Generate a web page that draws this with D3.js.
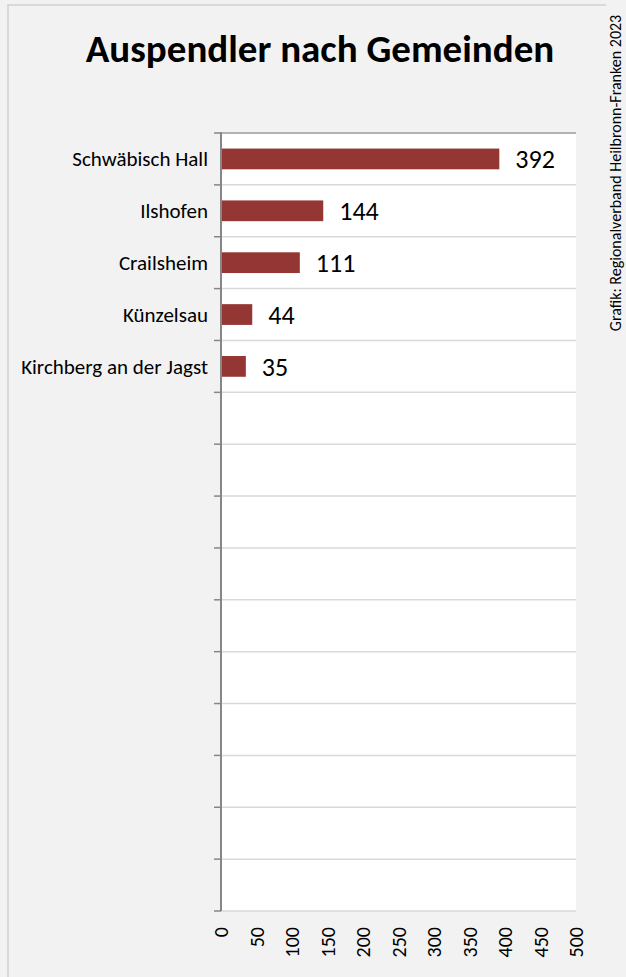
<!DOCTYPE html>
<html lang="de">
<head>
  <meta charset="UTF-8">
  <title>Auspendler nach Gemeinden</title>
  <style>
    body{ margin: 0; background: #f2f2f2; }
    text{ font-family: Carlito, Lato, "Open Sans", sans-serif; fill: #000; }
    .grid line{ stroke: #d9d9d9; stroke-width: 1.5px; }
    .bar{ fill: #943634; }
  </style>
</head>
<body>
  <script src="https://cdn.jsdelivr.net/npm/d3@7/dist/d3.min.js"></script>
  <script>
    const width = 626, height = 977;
    const title = 'Auspendler nach Gemeinden';
    const credit = 'Grafik: Regionalverband Heilbronn-Franken 2023';
    const categories = ['Schwäbisch Hall', 'Ilshofen', 'Crailsheim', 'Künzelsau', 'Kirchberg an der Jagst'];
    const values = [392, 144, 111, 44, 35];
    const slots = 15; // Diagramm hat 15 Kategorie-Plätze, nur 5 belegt
    const xTicks = [0, 50, 100, 150, 200, 250, 300, 350, 400, 450, 500];

    const plot = { left: 221, right: 576, top: 133, bottom: 911 };

    const svg = d3.select('body').append('svg')
      .attr('width', width).attr('height', height);

    // Rahmen
    svg.append('rect').attr('width', width).attr('height', height).attr('fill', '#f2f2f2');
    svg.append('path')
      .attr('d', `M8,${height} V5 H606`)
      .attr('fill', 'none').attr('stroke', '#d9d9d9').attr('stroke-width', 2);

    const x = d3.scaleLinear().domain([0, 500]).range([plot.left, plot.right]);
    const y = d3.scaleBand().domain(d3.range(slots)).range([plot.top, plot.bottom]).paddingInner(0.6).paddingOuter(0.3);

    svg.append('rect')
      .attr('x', plot.left).attr('y', plot.top)
      .attr('width', plot.right - plot.left).attr('height', plot.bottom - plot.top)
      .attr('fill', '#fff');

    // Gitterlinien an den Kategoriegrenzen
    const bounds = d3.range(slots + 1).map(i => plot.top + i * (plot.bottom - plot.top) / slots);
    svg.append('g').attr('class', 'grid')
      .selectAll('line').data(bounds).enter().append('line')
      .attr('x1', plot.left).attr('x2', plot.right)
      .attr('y1', d => d).attr('y2', d => d)
      .style('stroke', (d, i) => i === 0 ? '#9a9a9a' : null);

    // Balken
    svg.selectAll('rect.bar').data(values).enter().append('rect')
      .attr('class', 'bar')
      .attr('x', x(0) + 1)
      .attr('y', (d, i) => y(i))
      .attr('width', d => x(d) - x(0) - 1)
      .attr('height', y.bandwidth());

    // Werte
    svg.selectAll('text.value').data(values).enter().append('text')
      .attr('class', 'value')
      .attr('x', d => x(d) + 16)
      .attr('y', (d, i) => y(i) + y.bandwidth() / 2)
      .attr('dy', '0.36em')
      .style('font-size', '26px')
      .text(d => d);

    // Kategorieachse
    svg.selectAll('text.cat').data(categories).enter().append('text')
      .attr('class', 'cat')
      .attr('x', plot.left - 13)
      .attr('y', (d, i) => y(i) + y.bandwidth() / 2)
      .attr('dy', '0.36em')
      .attr('text-anchor', 'end')
      .style('font-size', '21px')
      .text(d => d);

    svg.append('g').selectAll('line').data(bounds).enter().append('line')
      .attr('x1', plot.left - 7).attr('x2', plot.left)
      .attr('y1', d => d).attr('y2', d => d)
      .attr('stroke', '#868686').attr('stroke-width', 1.5);
    svg.append('line')
      .attr('x1', plot.left).attr('x2', plot.left)
      .attr('y1', plot.top - 1).attr('y2', plot.bottom)
      .attr('stroke', '#868686').attr('stroke-width', 2);

    // Werteachse (senkrechte Beschriftung)
    svg.selectAll('text.tick').data(xTicks).enter().append('text')
      .attr('class', 'tick')
      .attr('transform', d => `translate(${x(d)},927) rotate(-90)`)
      .attr('dy', '0.35em')
      .attr('text-anchor', 'end')
      .style('font-size', '20px')
      .text(d => d);

    // Titel
    svg.append('text')
      .attr('x', 320).attr('y', 62)
      .attr('text-anchor', 'middle')
      .style('font-size', '39px').style('font-weight', 'bold')
      .text(title);

    svg.append('text')
      .attr('transform', 'translate(621,173) rotate(-90)')
      .attr('text-anchor', 'middle')
      .style('font-size', '16px')
      .text(credit);
  </script>
</body>
</html>
